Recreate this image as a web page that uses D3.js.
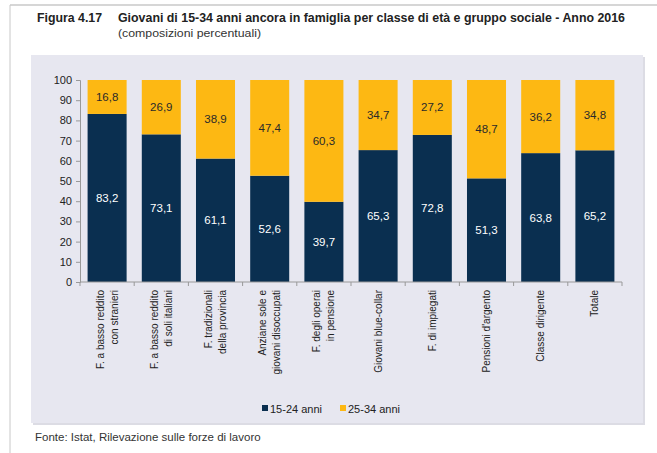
<!DOCTYPE html>
<html>
<head>
<meta charset="utf-8">
<script src="https://cdn.jsdelivr.net/npm/d3@7"></script>
<style>
  html, body { margin: 0; padding: 0; background: #ffffff; }
  svg { display: block; font-family: "Liberation Sans", Arial, Helvetica, sans-serif; }
</style>
</head>
<body>
<svg id="chart" width="657" height="453"></svg>
<script>
const categories = [
  ["F. a basso reddito", "con stranieri"],
  ["F. a basso reddito", "di soli italiani"],
  ["F. tradizionali", "della provincia"],
  ["Anziane sole e", "giovani disoccupati"],
  ["F. degli operai", "in pensione"],
  ["Giovani blue-collar"],
  ["F. di impiegati"],
  ["Pensioni d'argento"],
  ["Classe dirigente"],
  ["Totale"]
];
const series1Name = "15-24 anni";
const series2Name = "25-34 anni";
const series1 = [83.2, 73.1, 61.1, 52.6, 39.7, 65.3, 72.8, 51.3, 63.8, 65.2];
const series2 = [16.8, 26.9, 38.9, 47.4, 60.3, 34.7, 27.2, 48.7, 36.2, 34.8];
const yTicks = [0, 10, 20, 30, 40, 50, 60, 70, 80, 90, 100];

const navy = "#0a2f50", yellow = "#fdb813";
const svg = d3.select("#chart");

// frame lines
svg.append("line").attr("x1", 10).attr("x2", 657).attr("y1", 5).attr("y2", 5).attr("stroke", "#c8c8c8").attr("stroke-width", 1.5);
svg.append("line").attr("x1", 10).attr("x2", 10).attr("y1", 5).attr("y2", 453).attr("stroke", "#c8c8c8").attr("stroke-width", 1);

// titles
svg.append("text").attr("x", 37).attr("y", 22).attr("font-size", 12).attr("font-weight", "bold").attr("fill", "#222")
  .attr("textLength", 65).attr("lengthAdjust", "spacingAndGlyphs").text("Figura 4.17");
svg.append("text").attr("x", 118).attr("y", 22).attr("font-size", 12).attr("font-weight", "bold").attr("fill", "#222")
  .attr("textLength", 507).attr("lengthAdjust", "spacingAndGlyphs")
  .text("Giovani di 15-34 anni ancora in famiglia per classe di età e gruppo sociale - Anno 2016");
svg.append("text").attr("x", 118).attr("y", 37).attr("font-size", 11.5).attr("fill", "#333")
  .attr("textLength", 143).attr("lengthAdjust", "spacingAndGlyphs").text("(composizioni percentuali)");

// panel
svg.append("rect").attr("x", 33).attr("y", 57).attr("width", 612).attr("height", 368).attr("fill", "#dcdce4");
svg.append("rect").attr("x", 31).attr("y", 55).attr("width", 612).attr("height", 368).attr("fill", "#e7e7f0");

const plotL = 80, plotR = 622, plotT = 80, plotB = 282;
const x = d3.scaleBand().domain(d3.range(categories.length)).range([plotL, plotR]).paddingInner(0.28).paddingOuter(0.14);
const y = d3.scaleLinear().domain([0, 100]).range([plotB, plotT]);

const fmt = v => d3.format(".1f")(v).replace(".", ",");

// bars
const g = svg.append("g");
g.selectAll(".b1").data(series1).join("rect")
  .attr("x", (d, i) => x(i)).attr("width", x.bandwidth())
  .attr("y", d => y(d)).attr("height", d => y(0) - y(d)).attr("fill", navy);
g.selectAll(".b2").data(series2).join("rect")
  .attr("x", (d, i) => x(i)).attr("width", x.bandwidth())
  .attr("y", (d, i) => y(series1[i] + d)).attr("height", d => y(0) - y(d)).attr("fill", yellow);

// value labels
g.selectAll(".l1").data(series1).join("text")
  .attr("x", (d, i) => x(i) + x.bandwidth() / 2).attr("y", d => y(d / 2))
  .attr("text-anchor", "middle").attr("dominant-baseline", "central")
  .attr("font-size", 11.5).attr("fill", "#ffffff").text(fmt);
g.selectAll(".l2").data(series2).join("text")
  .attr("x", (d, i) => x(i) + x.bandwidth() / 2).attr("y", (d, i) => y(series1[i] + d / 2))
  .attr("text-anchor", "middle").attr("dominant-baseline", "central")
  .attr("font-size", 11.5).attr("fill", "#2a2a2a").text(fmt);

// y axis
const yAxis = svg.append("g").attr("transform", `translate(${plotL},0)`)
  .call(d3.axisLeft(y).tickValues(yTicks).tickSize(4).tickPadding(4));
yAxis.select(".domain").attr("stroke", "#999");
yAxis.selectAll(".tick line").attr("stroke", "#999");
yAxis.selectAll(".tick text").attr("font-size", 11).attr("fill", "#222").attr("font-family", "Liberation Sans, Arial, sans-serif");

// x axis line and ticks at band boundaries
svg.append("line").attr("x1", plotL).attr("x2", plotR).attr("y1", plotB).attr("y2", plotB).attr("stroke", "#999");
const bounds = d3.range(categories.length + 1).map(i => i === 0 ? plotL : (i === categories.length ? plotR : x(i) - x.step() * x.paddingInner() / 2));
svg.selectAll(".xt").data(bounds).join("line")
  .attr("x1", d => d).attr("x2", d => d).attr("y1", plotB).attr("y2", plotB + 4).attr("stroke", "#999");

// category labels
const cl = svg.selectAll(".cat").data(categories).join("text")
  .attr("transform", (d, i) => `translate(${x(i) + x.bandwidth() / 2},290) rotate(-90)`)
  .attr("text-anchor", "end").attr("font-size", 10).attr("fill", "#222");
cl.each(function(lines) {
  const t = d3.select(this);
  lines.forEach((ln, k) => {
    const off = lines.length === 1 ? 0 : (k === 0 ? -7 : 7);
    t.append("tspan").attr("x", 0).attr("y", off).attr("dominant-baseline", "central").text(ln);
  });
});

// legend
const legend = [[series1Name, navy, 262], [series2Name, yellow, 340]];
legend.forEach(([name, col, lx]) => {
  svg.append("rect").attr("x", lx).attr("y", 405).attr("width", 6).attr("height", 6).attr("fill", col);
  svg.append("text").attr("x", lx + 8).attr("y", 408.5).attr("dominant-baseline", "central")
    .attr("font-size", 11).attr("fill", "#222").text(name);
});

// source
svg.append("text").attr("x", 35).attr("y", 441).attr("font-size", 11.5).attr("fill", "#333")
  .text("Fonte: Istat, Rilevazione sulle forze di lavoro");
</script>
</body>
</html>
